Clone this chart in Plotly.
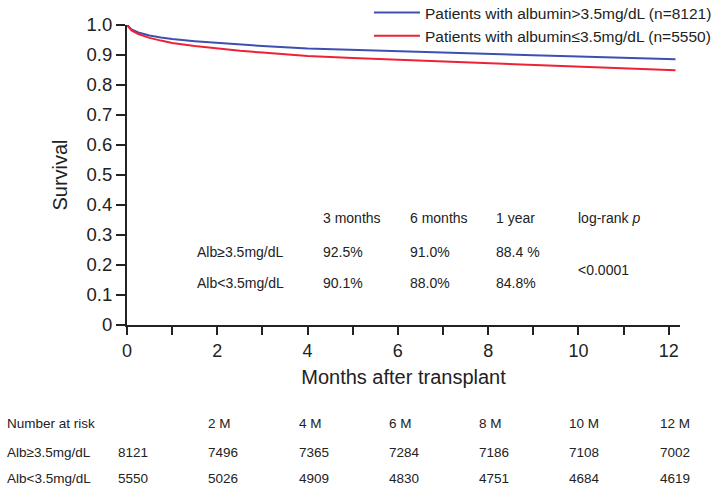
import plotly.graph_objects as go

# Kaplan-Meier survival
months = [0, 0.1, 0.25, 0.5, 0.75, 1, 1.5, 2, 2.5, 3, 4, 5, 6, 7, 8, 9, 10, 11, 12.15]
surv_high = [1.0, 0.985, 0.975, 0.965, 0.958, 0.953, 0.946, 0.940, 0.935, 0.930,
             0.922, 0.917, 0.913, 0.909, 0.904, 0.899, 0.895, 0.891, 0.886]
surv_low = [1.0, 0.982, 0.970, 0.957, 0.948, 0.940, 0.930, 0.921, 0.914, 0.908,
            0.897, 0.890, 0.884, 0.878, 0.872, 0.866, 0.860, 0.855, 0.849]

legend_names = ["Patients with albumin>3.5mg/dL (n=8121)",
                "Patients with albumin\u22643.5mg/dL (n=5550)"]

# summary table inside the plot
table_cols = ["3 months", "6 months", "1 year", "log-rank <i>p</i>"]
table_rows = ["Alb\u22653.5mg/dL", "Alb<3.5mg/dL"]
table_vals = [["92.5%", "91.0%", "88.4 %"], ["90.1%", "88.0%", "84.8%"]]
p_value = "<0.0001"

# number at risk
risk_months = [0, 2, 4, 6, 8, 10, 12]
risk_labels = ["", "2 M", "4 M", "6 M", "8 M", "10 M", "12 M"]
risk_high = [8121, 7496, 7365, 7284, 7186, 7108, 7002]
risk_low = [5550, 5026, 4909, 4830, 4751, 4684, 4619]
risk_rows = ["Number at risk", "Alb\u22653.5mg/dL", "Alb<3.5mg/dL"]

fig = go.Figure()
fig.add_trace(go.Scatter(x=months, y=surv_high, mode="lines", name=legend_names[0],
                         line=dict(color="#3d50b2", width=2)))
fig.add_trace(go.Scatter(x=months, y=surv_low, mode="lines", name=legend_names[1],
                         line=dict(color="#ee2235", width=2)))

font = "Liberation Sans, Arial, Helvetica, sans-serif"
ink = "#222"
L, T, B = 126.7, 25, 166
W = 12.25 * 45.2
R = 714 - L - W
H = 491 - T - B


def px(x):
    return (x - L) / W


def py(y):
    return 1 - (y - T) / H


annotations = []


def text(x, y, s, size=14, xref="paper", xshift=0):
    annotations.append(dict(x=x, y=y, xref=xref, yref="paper", text=s, showarrow=False,
                            xanchor="left", yanchor="middle", xshift=xshift,
                            font=dict(family=font, size=size, color=ink)))


col_x = [321, 408, 494, 576]
row_y = [252, 283]
for cx, s in zip(col_x, table_cols):
    text(px(cx), py(218), s)
for yy, name, vals in zip(row_y, table_rows, table_vals):
    text(px(195), py(yy), name)
    for cx, v in zip(col_x, vals):
        text(px(cx), py(yy), v)
text(px(576), py(270), p_value)

risk_y = [423, 452, 478]
for yy, name in zip(risk_y, risk_rows):
    text(px(5), py(yy), name, size=13.5)
for m, lab, hi, lo in zip(risk_months, risk_labels, risk_high, risk_low):
    for s, yy in zip([lab, str(hi), str(lo)], risk_y):
        if s:
            text(m, py(yy), s, size=13.5, xref="x", xshift=-11)

fig.update_layout(
    width=714, height=491,
    margin=dict(l=L, r=R, t=T, b=B, autoexpand=False),
    plot_bgcolor="white", paper_bgcolor="white",
    showlegend=True,
    legend=dict(x=px(369), y=py(-4), xanchor="left", yanchor="top",
                font=dict(family=font, size=15.5, color=ink),
                bgcolor="rgba(0,0,0,0)", tracegroupgap=0, itemwidth=46),
    annotations=annotations,
    xaxis=dict(range=[0, 12.25], tickvals=list(range(13)),
               ticktext=[str(i) if i % 2 == 0 else "" for i in range(13)],
               ticks="outside", ticklen=8, tickwidth=2, tickcolor=ink,
               showline=True, linecolor=ink, linewidth=2, showgrid=False, zeroline=False,
               tickfont=dict(family=font, size=18, color=ink),
               title=dict(text="Months after transplant", standoff=10,
                          font=dict(family=font, size=20, color=ink))),
    yaxis=dict(range=[0, 1.0], tickvals=[i / 10 for i in range(11)],
               ticktext=["0"] + [f"{i / 10:.1f}" for i in range(1, 11)],
               ticks="outside", ticklen=9, tickwidth=2, tickcolor=ink,
               showline=True, linecolor=ink, linewidth=2, showgrid=False, zeroline=False,
               tickfont=dict(family=font, size=18.5, color=ink),
               title=dict(text="Survival", standoff=14,
                          font=dict(family=font, size=20, color=ink))),
)
# page has a default body margin; drop it so the figure fills the window
fig.write_html("out.html", config={"displayModeBar": False},
               post_script="document.body.style.margin='0';")
